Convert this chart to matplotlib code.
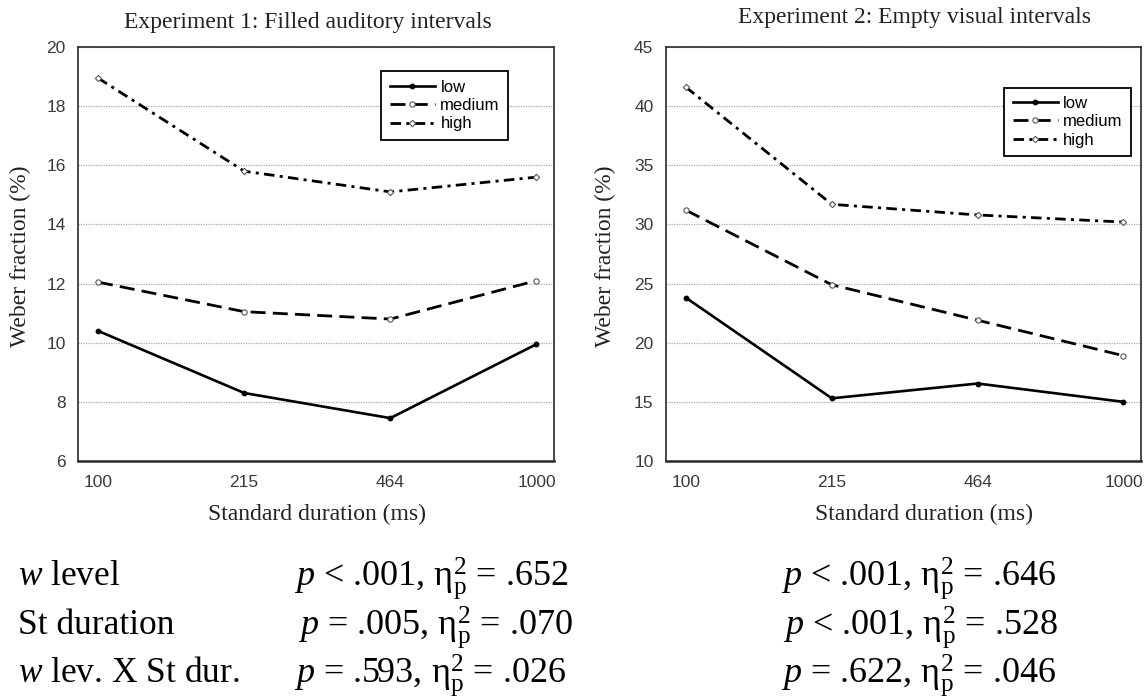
import matplotlib
matplotlib.use("Agg")
import matplotlib.pyplot as plt
import numpy as np

# ── data ───────────────────────────────────────────────────────────────────
durations = ["100", "215", "464", "1000"]
levels = ["low", "medium", "high"]

exp1_low = [10.4, 8.3, 7.45, 9.95]
exp1_medium = [12.05, 11.05, 10.8, 12.1]
exp1_high = [18.95, 15.8, 15.1, 15.6]

exp2_low = [23.8, 15.3, 16.55, 15.0]
exp2_medium = [31.2, 24.9, 21.9, 18.9]
exp2_high = [41.6, 31.7, 30.8, 30.2]

effect_names = ["$w$ level", "St duration", "$w$ lev. X St dur."]
exp1_stats = ["$p$ < .001", "$p$ = .005", "$p$ = .593"]
exp1_eta = [".652", ".070", ".026"]
exp2_stats = ["$p$ < .001", "$p$ < .001", "$p$ = .622"]
exp2_eta = [".646", ".528", ".046"]

plt.rcParams["mathtext.fontset"] = "custom"
plt.rcParams["mathtext.rm"] = "Liberation Serif"
plt.rcParams["mathtext.it"] = "Liberation Serif:italic"

SERIF = "Liberation Serif"
SANS = "Liberation Sans"
W, H = 1148, 699

fig = plt.figure(figsize=(W / 100, H / 100), dpi=100)
ax1 = fig.add_axes([78 / W, 1 - 461 / H, 476 / W, 414 / H])
ax2 = fig.add_axes([666 / W, 1 - 461 / H, 475 / W, 414 / H])

STY = {
    "low": dict(ls="-", lw=1.9, marker="o", ms=3.2, mfc="k", mec="k"),
    "medium": dict(ls=(0, (5.4, 2.6)), lw=2.0, marker="o", ms=3.8,
                   mfc="white", mec="#555555", mew=0.8),
    "high": dict(ls=(0, (3.8, 1.9, 1.1, 1.9)), lw=2.0, marker="D", ms=3.2,
                 mfc="white", mec="#555555", mew=0.8),
}

x = np.arange(len(durations))


def panel(ax, series, ylim, step, leg_anchor):
    for lab, vals in zip(levels, series):
        ax.plot(x, vals, color="k", label=lab, **STY[lab])
    ax.set_xlim(-0.137, 3.12)
    ax.set_ylim(*ylim)
    ax.set_yticks(np.arange(ylim[0], ylim[1] + 0.1, step))
    ax.set_xticks(x)
    ax.set_xticklabels(durations)
    ax.yaxis.grid(True, color="#aaaaaa", ls=(0, (1, 1)), lw=0.9)
    ax.set_axisbelow(True)
    ax.tick_params(length=0, labelsize=12.5, labelcolor="#3a3a3a")
    ax.tick_params(axis="y", pad=9)
    ax.tick_params(axis="x", pad=10)
    for t in ax.get_xticklabels() + ax.get_yticklabels():
        t.set_fontfamily(SANS)
    for s in ax.spines.values():
        s.set_color("#2a2a2a")
        s.set_linewidth(1.2)
    ax.spines["bottom"].set_linewidth(1.8)
    leg = ax.legend(loc="upper left", bbox_to_anchor=leg_anchor, borderaxespad=0,
                    frameon=True, fancybox=False, framealpha=1, edgecolor="k",
                    prop={"family": SANS, "size": 12}, handlelength=2.7,
                    handletextpad=0.35, labelspacing=0.2, borderpad=0.5)
    leg.get_frame().set_linewidth(1.3)


panel(ax1, [exp1_low, exp1_medium, exp1_high], (6, 20), 2, (0.637, 0.941))
panel(ax2, [exp2_low, exp2_medium, exp2_high], (10, 45), 5, (0.712, 0.902))

# titles, axis labels
fig.text(308 / W, 1 - 28 / H, "Experiment 1: Filled auditory intervals",
         ha="center", va="baseline", family=SERIF, fontsize=17, color="#222222")
fig.text(914 / W, 1 - 23 / H, "Experiment 2: Empty visual intervals",
         ha="center", va="baseline", family=SERIF, fontsize=17, color="#222222")
for cx in (317, 924):
    fig.text(cx / W, 1 - 520 / H, "Standard duration (ms)", ha="center",
             va="baseline", family=SERIF, fontsize=17, color="#222222")
for cx in (20, 605):
    fig.text(cx / W, 1 - 256 / H, "Weber fraction (%)", ha="center",
             va="center", rotation=90, family=SERIF, fontsize=17, color="#222222")

# ANOVA results underneath
rows_y = [585, 634, 682]
col1_x = [294, 298, 294]
col2_x = [781, 783, 781]
for i in range(3):
    yb = 1 - rows_y[i] / H
    fig.text(18 / W, yb, effect_names[i], va="baseline", family=SERIF, fontsize=25.5)
    fig.text(col1_x[i] / W, yb,
             exp1_stats[i] + r", $\mathrm{η}^{2}_{\mathrm{p}}$ = " + exp1_eta[i],
             va="baseline", family=SERIF, fontsize=26)
    fig.text(col2_x[i] / W, yb,
             exp2_stats[i] + r", $\mathrm{η}^{2}_{\mathrm{p}}$ = " + exp2_eta[i],
             va="baseline", family=SERIF, fontsize=26)

fig.savefig("out.png", dpi=100)
